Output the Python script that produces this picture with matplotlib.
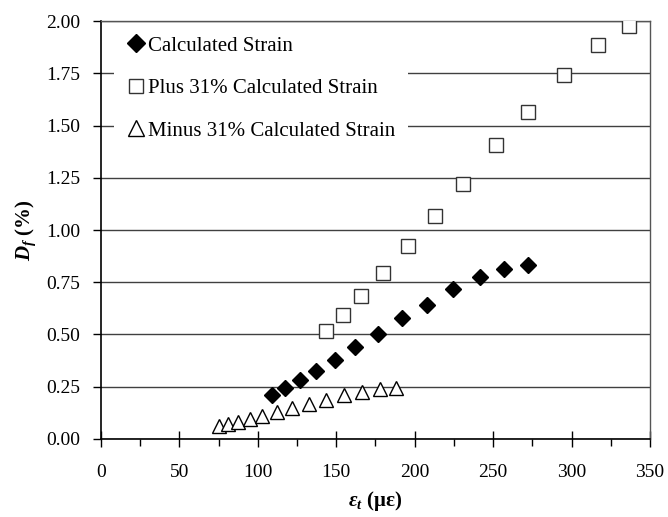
import matplotlib.pyplot as plt
from matplotlib.ticker import MultipleLocator

plt.rcParams["font.family"] = ["Liberation Serif", "DejaVu Serif"]
plt.rcParams["mathtext.fontset"] = "custom"
plt.rcParams["mathtext.rm"] = "Liberation Serif"
plt.rcParams["mathtext.it"] = "Liberation Serif:italic"
plt.rcParams["mathtext.bf"] = "Liberation Serif:bold"
plt.rcParams["mathtext.bfit"] = "Liberation Serif:italic:bold"

# Calculated strain (diamonds)
calc_x = [109.4, 117.6, 126.8, 137.2, 149.0, 162.2, 176.4, 192.2, 207.6, 224.4, 241.4, 257.0, 272.0]
calc_y = [0.212, 0.244, 0.282, 0.326, 0.379, 0.438, 0.503, 0.578, 0.643, 0.717, 0.777, 0.812, 0.835]

# Plus 31% (squares)
plus_x = [143.3, 154.1, 165.8, 180.0, 195.5, 212.7, 231.0, 252.0, 272.2, 294.9, 316.8, 336.9]
plus_y = [0.518, 0.591, 0.683, 0.793, 0.922, 1.067, 1.222, 1.405, 1.566, 1.743, 1.888, 1.977]

# Minus 31% (triangles)
minus_x = [75.4, 81.1, 87.7, 95.0, 103.0, 112.1, 122.1, 132.7, 143.5, 155.2, 166.7, 177.7, 188.1]
minus_y = [0.060, 0.072, 0.081, 0.094, 0.110, 0.127, 0.146, 0.167, 0.186, 0.208, 0.225, 0.237, 0.245]

fig = plt.figure(figsize=(6.68, 5.17), dpi=100)
ax = fig.add_axes([0.151, 0.151, 0.822, 0.808])

ax.plot(calc_x, calc_y, "D", color="black", ms=8.5, ls="none",
        label="Calculated Strain", zorder=3)
ax.plot(plus_x, plus_y, "s", mfc="white", mec="#333333", mew=1.0, ms=9.5,
        ls="none", label="Plus 31% Calculated Strain", zorder=3)
ax.plot(minus_x, minus_y, "^", mfc="white", mec="black", mew=1.0, ms=10.5,
        ls="none", label="Minus 31% Calculated Strain", zorder=3)

ax.set_xlim(0, 350)
ax.set_ylim(0, 2.0)
ax.xaxis.set_major_locator(MultipleLocator(50))
ax.xaxis.set_minor_locator(MultipleLocator(25))
ax.yaxis.set_major_locator(MultipleLocator(0.25))
ax.yaxis.set_major_formatter(plt.FormatStrFormatter("%.2f"))

ax.grid(True, axis="y", color="#404040", lw=1.0)
ax.set_axisbelow(True)

for s in ["top", "right"]:
    ax.spines[s].set_color("#555555")
    ax.spines[s].set_linewidth(1.0)
for s in ["left", "bottom"]:
    ax.spines[s].set_color("black")
    ax.spines[s].set_linewidth(1.2)

ax.tick_params(axis="x", which="major", direction="inout", length=12, width=1.0,
               labelsize=14, pad=12)
ax.tick_params(axis="x", which="minor", direction="out", length=5, width=1.0)
ax.tick_params(axis="y", which="major", direction="out", length=6, width=1.0,
               labelsize=14, pad=9)

ax.set_xlabel(r"$\mathbfit{\varepsilon}_{\mathbfit{t}}$ ($\mathbf{\mu\varepsilon}$)",
              fontsize=15, fontweight="bold", labelpad=6)
ax.set_ylabel(r"$\mathbfit{D}_{\mathbfit{f}}$ (%)", fontsize=15,
              fontweight="bold", labelpad=6)

leg = ax.legend(loc="upper left", bbox_to_anchor=(0.024, 0.994), fontsize=15,
                frameon=True, fancybox=False, borderpad=0.6, labelspacing=1.1,
                handlelength=0.9, handletextpad=0.15, markerscale=1.1,
                borderaxespad=0.0)
leg.get_frame().set_facecolor("white")
leg.get_frame().set_edgecolor("none")
leg.get_frame().set_alpha(1.0)

plt.savefig("out.png", dpi=100)
